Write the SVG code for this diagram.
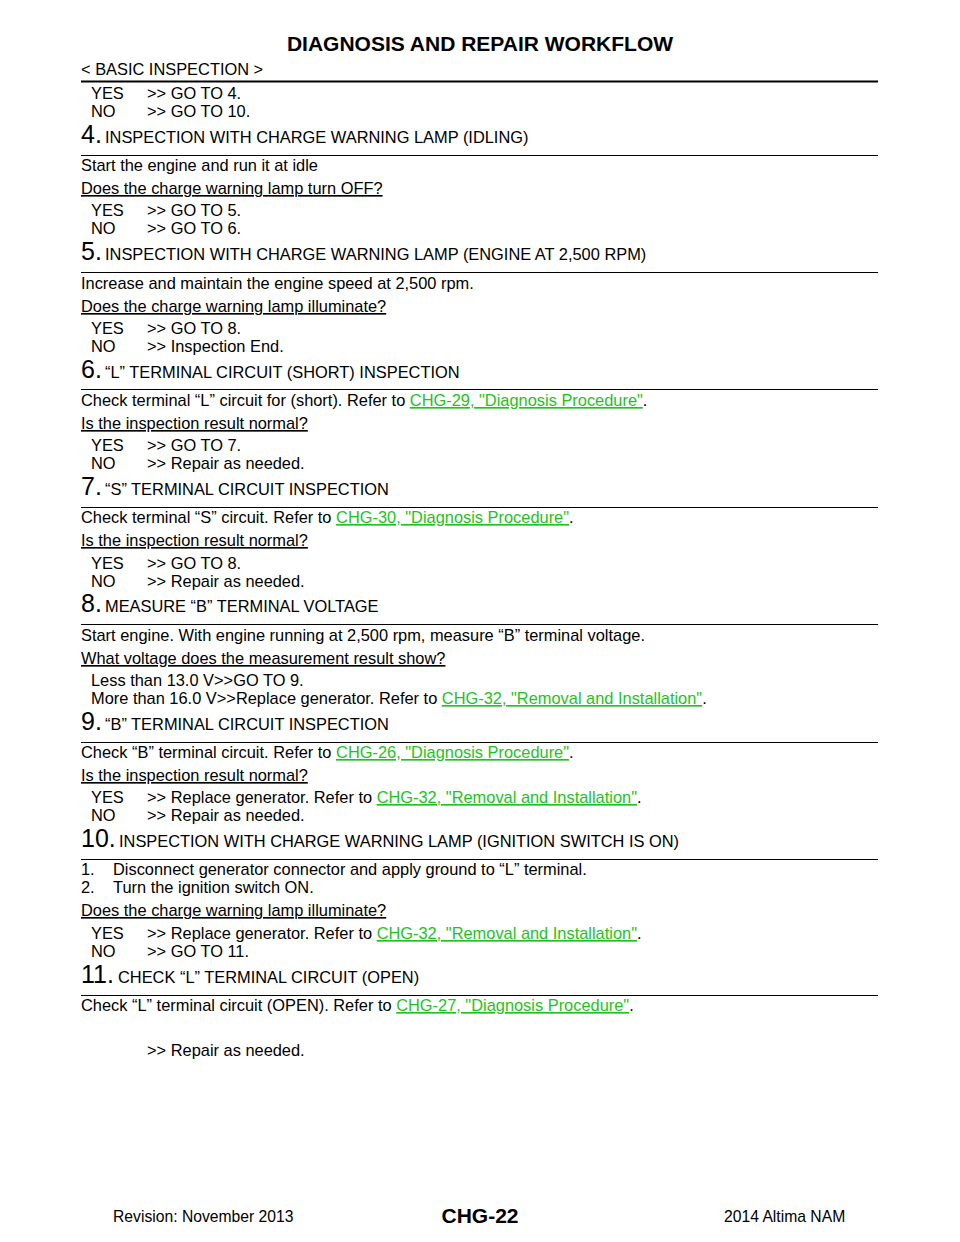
<svg xmlns="http://www.w3.org/2000/svg" width="960" height="1242" viewBox="0 0 960 1242">
<style>
text{font-family:"Liberation Sans",Arial,sans-serif;font-size:16.4px;fill:#000}
.n{font-size:25px}
.u{text-decoration:underline}
.l{fill:#1ec31e;text-decoration:underline}
.r{stroke:#000;stroke-width:1}
.f{font-size:15.7px}
</style>
<rect width="960" height="1242" fill="#fff"/>
<text x="480" y="51" text-anchor="middle" font-weight="bold" style="font-size:21px">DIAGNOSIS AND REPAIR WORKFLOW</text>
<text x="81" y="75">&lt; BASIC INSPECTION &gt;</text>
<line x1="81" y1="81.5" x2="878" y2="81.5" stroke="#000" stroke-width="2"/>
<g>
<line class="r" x1="81" y1="155.5" x2="878" y2="155.5"/>
<line class="r" x1="81" y1="272.5" x2="878" y2="272.5"/>
<line class="r" x1="81" y1="389.5" x2="878" y2="389.5"/>
<line class="r" x1="81" y1="507.5" x2="878" y2="507.5"/>
<line class="r" x1="81" y1="624.5" x2="878" y2="624.5"/>
<line class="r" x1="81" y1="742.5" x2="878" y2="742.5"/>
<line class="r" x1="81" y1="859.5" x2="878" y2="859.5"/>
<line class="r" x1="81" y1="995.5" x2="878" y2="995.5"/>
</g>
<text x="91" y="99">YES</text><text x="147" y="99">&gt;&gt; GO TO 4.</text>
<text x="91" y="117">NO</text><text x="147" y="117">&gt;&gt; GO TO 10.</text>

<text x="81" y="143" class="n">4.</text><text x="105" y="143">INSPECTION WITH CHARGE WARNING LAMP (IDLING)</text>
<text x="81" y="171">Start the engine and run it at idle</text>
<text x="81" y="194" class="u">Does the charge warning lamp turn OFF?</text>
<text x="91" y="216">YES</text><text x="147" y="216">&gt;&gt; GO TO 5.</text>
<text x="91" y="234">NO</text><text x="147" y="234">&gt;&gt; GO TO 6.</text>

<text x="81" y="260" class="n">5.</text><text x="105" y="260">INSPECTION WITH CHARGE WARNING LAMP (ENGINE AT 2,500 RPM)</text>
<text x="81" y="289">Increase and maintain the engine speed at 2,500 rpm.</text>
<text x="81" y="312" class="u">Does the charge warning lamp illuminate?</text>
<text x="91" y="334">YES</text><text x="147" y="334">&gt;&gt; GO TO 8.</text>
<text x="91" y="352">NO</text><text x="147" y="352">&gt;&gt; Inspection End.</text>

<text x="81" y="378" class="n">6.</text><text x="105" y="378">“L” TERMINAL CIRCUIT (SHORT) INSPECTION</text>
<text x="81" y="406">Check terminal “L” circuit for (short). Refer to <tspan class="l">CHG-29, "Diagnosis Procedure"</tspan>.</text>
<text x="81" y="429" class="u">Is the inspection result normal?</text>
<text x="91" y="451">YES</text><text x="147" y="451">&gt;&gt; GO TO 7.</text>
<text x="91" y="469">NO</text><text x="147" y="469">&gt;&gt; Repair as needed.</text>

<text x="81" y="495" class="n">7.</text><text x="105" y="495">“S” TERMINAL CIRCUIT INSPECTION</text>
<text x="81" y="523">Check terminal “S” circuit. Refer to <tspan class="l">CHG-30, "Diagnosis Procedure"</tspan>.</text>
<text x="81" y="546" class="u">Is the inspection result normal?</text>
<text x="91" y="569">YES</text><text x="147" y="569">&gt;&gt; GO TO 8.</text>
<text x="91" y="587">NO</text><text x="147" y="587">&gt;&gt; Repair as needed.</text>

<text x="81" y="612" class="n">8.</text><text x="105" y="612">MEASURE “B” TERMINAL VOLTAGE</text>
<text x="81" y="641">Start engine. With engine running at 2,500 rpm, measure “B” terminal voltage.</text>
<text x="81" y="664" class="u">What voltage does the measurement result show?</text>
<text x="91" y="686">Less than 13.0 V&gt;&gt;GO TO 9.</text>
<text x="91" y="704">More than 16.0 V&gt;&gt;Replace generator. Refer to <tspan class="l">CHG-32, "Removal and Installation"</tspan>.</text>

<text x="81" y="730" class="n">9.</text><text x="105" y="730">“B” TERMINAL CIRCUIT INSPECTION</text>
<text x="81" y="758">Check “B” terminal circuit. Refer to <tspan class="l">CHG-26, "Diagnosis Procedure"</tspan>.</text>
<text x="81" y="781" class="u">Is the inspection result normal?</text>
<text x="91" y="803">YES</text><text x="147" y="803">&gt;&gt; Replace generator. Refer to <tspan class="l">CHG-32, "Removal and Installation"</tspan>.</text>
<text x="91" y="821">NO</text><text x="147" y="821">&gt;&gt; Repair as needed.</text>

<text x="81" y="847" class="n">10.</text><text x="119" y="847">INSPECTION WITH CHARGE WARNING LAMP (IGNITION SWITCH IS ON)</text>
<text x="81" y="875">1.</text><text x="113" y="875">Disconnect generator connector and apply ground to “L” terminal.</text>
<text x="81" y="893">2.</text><text x="113" y="893">Turn the ignition switch ON.</text>
<text x="81" y="916" class="u">Does the charge warning lamp illuminate?</text>
<text x="91" y="939">YES</text><text x="147" y="939">&gt;&gt; Replace generator. Refer to <tspan class="l">CHG-32, "Removal and Installation"</tspan>.</text>
<text x="91" y="957">NO</text><text x="147" y="957">&gt;&gt; GO TO 11.</text>

<text x="81" y="983" class="n">11.</text><text x="118" y="983">CHECK “L” TERMINAL CIRCUIT (OPEN)</text>
<text x="81" y="1011">Check “L” terminal circuit (OPEN). Refer to <tspan class="l">CHG-27, "Diagnosis Procedure"</tspan>.</text>
<text x="147" y="1056">&gt;&gt; Repair as needed.</text>

<text x="113" y="1222" class="f">Revision: November 2013</text>
<text x="480" y="1223" text-anchor="middle" font-weight="bold" style="font-size:21px">CHG-22</text>
<text x="724" y="1222" class="f">2014 Altima NAM</text>
</svg>
